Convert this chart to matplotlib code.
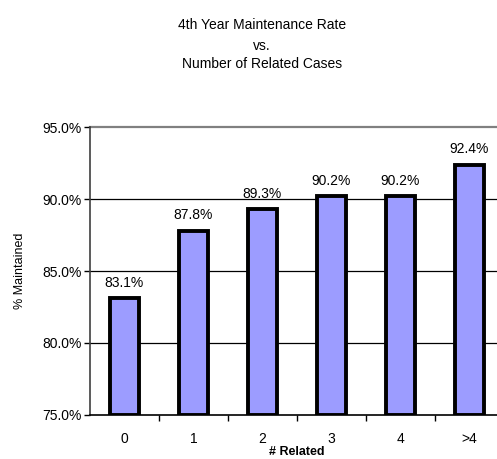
import matplotlib
matplotlib.use("Agg")
import matplotlib.pyplot as plt

categories = ["0", "1", "2", "3", "4", ">4"]
maintained = [83.1, 87.8, 89.3, 90.2, 90.2, 92.4]
yticks = [75.0, 80.0, 85.0, 90.0, 95.0]

plt.rcParams["font.family"] = ["Liberation Sans", "DejaVu Sans"]

fig = plt.figure(figsize=(4.97, 4.59), dpi=100)
ax = fig.add_axes([0.181, 0.096, 0.833, 0.627])

x = list(range(len(categories)))
ax.bar(x, [v - 75.0 for v in maintained], bottom=75.0, width=0.43,
       color="#9c9cff", edgecolor="black", linewidth=2.8, zorder=3)

for xi, v in zip(x, maintained):
    ax.annotate(f"{v:.1f}%", (xi, v), xytext=(0, 6), textcoords="offset points",
                ha="center", va="bottom", fontsize=10)

ax.set_xlim(-0.5, len(categories) - 0.5)
ax.set_ylim(75.0, 95.0)
ax.set_yticks(yticks)
ax.set_yticklabels([f"{t:.1f}%" for t in yticks], fontsize=10)
ax.set_xticks(x)
ax.set_xticklabels(categories, fontsize=10)
ax.set_xticks([i + 0.5 for i in range(len(categories) - 1)], minor=True)
ax.tick_params(axis="x", which="major", length=0, pad=12)
ax.tick_params(axis="x", which="minor", length=4, width=1, direction="out")
ax.tick_params(axis="y", length=4, width=1, direction="out", pad=2)

for yt in yticks[1:-1]:
    ax.axhline(yt, color="black", linewidth=0.9, zorder=1)
ax.axhline(95.0, color="#808080", linewidth=1.6, zorder=1, clip_on=False)

for s in ["top", "right"]:
    ax.spines[s].set_visible(False)
ax.spines["left"].set_color("#404040")
ax.spines["left"].set_linewidth(1.2)
ax.spines["bottom"].set_color("black")
ax.spines["bottom"].set_linewidth(1.2)

ax.set_ylabel("% Maintained", fontsize=9, labelpad=12)
ax.set_xlabel("# Related", fontsize=9, labelpad=0, fontweight="bold")

fig.text(0.527, 0.946, "4th Year Maintenance Rate", ha="center", va="center", fontsize=10)
fig.text(0.527, 0.900, "vs.", ha="center", va="center", fontsize=10)
fig.text(0.527, 0.860, "Number of Related Cases", ha="center", va="center", fontsize=10)

fig.savefig("out.png", dpi=100)
